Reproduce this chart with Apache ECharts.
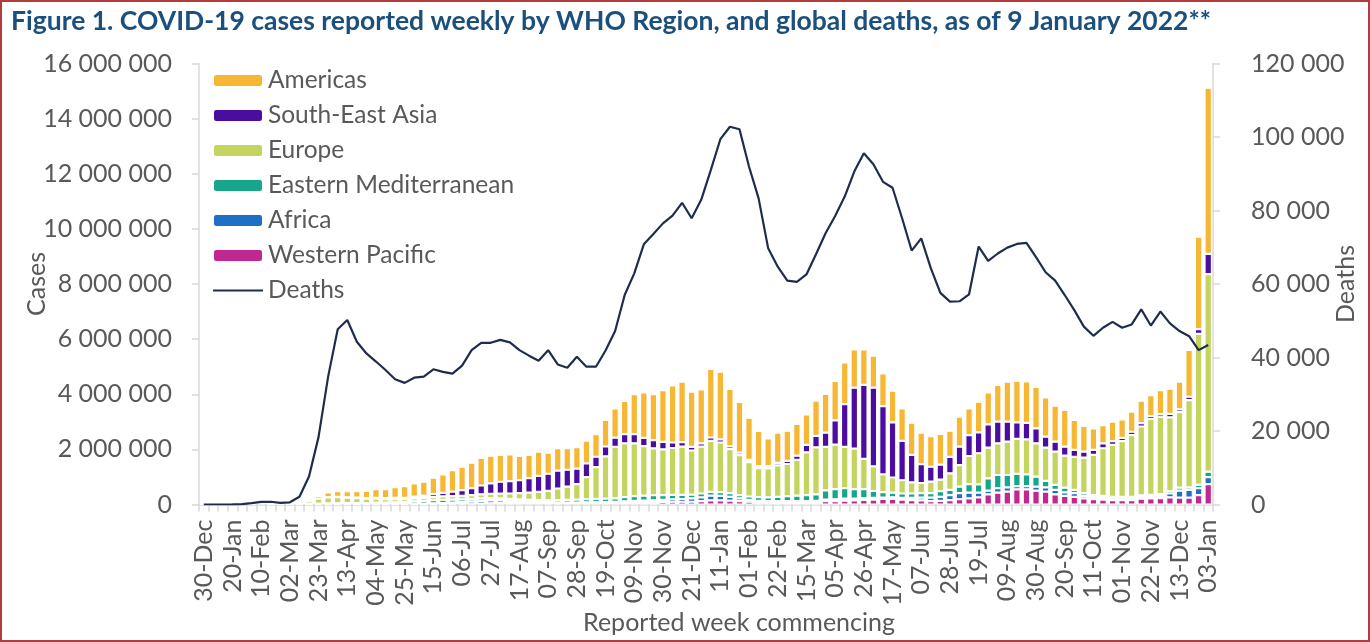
<!DOCTYPE html>
<html>
<head>
<meta charset="utf-8">
<script src="https://cdn.jsdelivr.net/npm/echarts@6/dist/echarts.min.js"></script>
<style>
html,body{margin:0;padding:0;background:#fff;}
#chart{width:1370px;height:642px;}
</style>
</head>
<body>
<div id="chart"></div>
<script>
// Week commencing labels (106 weeks)
const weeks = ["30-Dec","06-Jan","13-Jan","20-Jan","27-Jan","03-Feb","10-Feb","17-Feb","24-Feb","02-Mar","09-Mar","16-Mar","23-Mar","30-Mar","06-Apr","13-Apr","20-Apr","27-Apr","04-May","11-May","18-May","25-May","01-Jun","08-Jun","15-Jun","22-Jun","29-Jun","06-Jul","13-Jul","20-Jul","27-Jul","03-Aug","10-Aug","17-Aug","24-Aug","31-Aug","07-Sep","14-Sep","21-Sep","28-Sep","05-Oct","12-Oct","19-Oct","26-Oct","02-Nov","09-Nov","16-Nov","23-Nov","30-Nov","07-Dec","14-Dec","21-Dec","28-Dec","04-Jan","11-Jan","18-Jan","25-Jan","01-Feb","08-Feb","15-Feb","22-Feb","01-Mar","08-Mar","15-Mar","22-Mar","29-Mar","05-Apr","12-Apr","19-Apr","26-Apr","03-May","10-May","17-May","24-May","31-May","07-Jun","14-Jun","21-Jun","28-Jun","05-Jul","12-Jul","19-Jul","26-Jul","02-Aug","09-Aug","16-Aug","23-Aug","30-Aug","06-Sep","13-Sep","20-Sep","27-Sep","04-Oct","11-Oct","18-Oct","25-Oct","01-Nov","08-Nov","15-Nov","22-Nov","29-Nov","06-Dec","13-Dec","20-Dec","27-Dec","03-Jan"];

// Weekly cases by WHO region, in thousands
const westernPacificK = [0.1,0.1,0.3,2,12,22,40,10,5,5, 5,6,8,10,10,10,8,7,6,6, 6,6,6,7,9,12,15,18,25,35, 45,50,55,50,45,40,35,35,35,35, 40,45,45,50,55,60,70,80,90,100, 100,100,120,150,150,140,120,100,80,70, 70,70,70,70,80,120,120,140,150,170, 180,200,200,180,160,150,120,130,160,190, 220,260,370,430,470,550,550,500,470,370, 310,280,220,190,180,160,160,160,210,220, 230,260,250,250,340,740];
const africaK = [0,0,0,0,0,0,0,0,0,0.01, 0.1,0.5,1,3,5,6,6,8,10,10, 12,14,18,22,30,40,55,70,90,100, 105,95,80,65,55,45,40,35,35,35, 35,38,45,50,60,70,70,75,80,90, 100,120,140,170,160,140,100,70,55,50, 50,50,50,50,50,60,70,70,60,60, 60,50,60,60,80,100,130,150,180,220, 210,170,130,160,150,120,120,150,150,160, 130,130,90,70,60,50,50,50,50,50, 80,140,250,280,250,250];
const easternMedK = [0,0,0,0,0,0,0,0.1,1,6, 10,14,20,25,30,32,35,40,50,55, 60,70,90,100,115,120,110,100,90,85, 80,75,70,70,70,75,80,90,100,110, 115,120,125,125,150,170,180,180,170,160, 150,140,140,140,140,130,120,120,130,140, 160,180,200,220,240,330,370,380,350,330, 250,200,170,160,160,160,160,200,190,240, 310,300,450,480,450,440,420,360,240,180, 170,120,100,80,70,70,70,70,70,80, 70,80,110,90,120,200];
const europeK = [0,0,0,0,0,0.01,0,0.01,1,8, 40,100,180,220,225,200,185,160,150,125, 120,105,105,110,115,120,125,130,135,150, 160,175,195,225,260,300,340,420,480,560, 800,1150,1530,1870,1950,1920,1800,1700,1660,1700, 1750,1600,1700,1850,1800,1600,1450,1250,1050,1050, 1140,1170,1300,1550,1700,1580,1610,1500,1470,1100, 890,640,550,480,400,370,420,420,600,780, 1020,1130,1110,1150,1210,1270,1270,1210,1200,1210, 1160,1200,1290,1460,1730,1880,2020,2240,2500,2760, 2800,2680,2740,3170,5480,7170];
const southEastAsiaK = [0,0,0,0,0,0,0,0,0,0.01, 0.1,0.5,2,5,8,12,16,20,25,32, 42,50,65,80,105,130,165,200,250,320, 380,430,450,470,530,580,620,650,610,560, 500,380,360,330,340,330,300,300,270,200, 160,130,120,120,110,100,90,80,80,80, 90,110,150,270,420,520,880,1550,2210,2680, 2860,2480,2000,1430,1000,680,540,550,600,670, 760,760,850,790,730,600,600,540,400,360, 330,250,220,180,180,140,120,120,120,100, 100,130,100,120,170,730];
const americasK = [0,0,0,0,0,0,0,0,0.1,0.5, 3,25,100,180,210,225,235,255,320,327, 385,425,486,511,596,673,780,852,930,1000, 1000,975,970,880,840,880,765,810,780,780, 830,817,965,1065,1205,1450,1650,1665,1880,2070, 2200,2000,1960,2490,2460,2080,1840,1530,1275,1010, 1100,1100,1150,1110,1280,1400,1430,1520,1390,1290, 1160,1190,1150,1180,1170,1150,1110,1110,950,1090, 970,1110,1160,1330,1450,1510,1510,1510,1430,1310, 1330,1090,930,780,660,710,670,730,820,760, 870,910,1010,1700,3360,6030];

// Global weekly deaths, in thousands
const deathsK = [0,0,0,0.02,0.1,0.35,0.7,0.75,0.45,0.6, 2.1,7.6,18.4,34.8,47.7,50.2,44.3,41.1,38.9,36.6, 34.1,33.1,34.5,34.8,36.8,36.1,35.6,37.8,42.0,44.0, 44.0,44.8,44.1,42.0,40.5,39.1,42.0,38.1,37.2,40.2, 37.5,37.5,41.9,47.2,57.0,62.9,70.8,73.6,76.5,78.6, 82.1,77.9,82.9,91.0,99.4,102.8,102.1,91.9,83.3,69.7, 64.7,60.9,60.6,62.6,68.1,73.8,78.5,83.8,90.6,95.6, 92.6,87.8,86.2,77.9,69.1,72.4,64.3,57.6,55.2,55.3, 57.2,70.2,66.3,68.3,69.9,70.9,71.2,67.3,63.2,60.9, 57.0,52.9,48.4,45.9,48.1,49.7,48.1,49.0,53.1,48.7, 52.5,49.3,47.2,45.8,42.0,43.4];

const legendOrder = ["Americas","South-East Asia","Europe","Eastern Mediterranean","Africa","Western Pacific","Deaths"];

const FONT = "Lato";
const TXT = "#595959";
const AXIS = "#d9d9d9";
const fmt = v => String(v).replace(/\B(?=(\d{3})+(?!\d))/g, " ");
const toUnits = arr => arr.map(v => Math.round(v * 1000));

function barSeries(name, color, arr) {
  return {
    name: name, type: "bar", stack: "cases", barCategoryGap: "22%",
    itemStyle: { color: color, borderColor: "#ffffff", borderWidth: 1.1 },
    data: toUnits(arr), animation: false
  };
}

const legendData = legendOrder.map(n => n === "Deaths"
  ? { name: n, icon: "path://M0,0 H50 V2.2 H0 Z" }
  : { name: n });

const chart = echarts.init(document.getElementById("chart"));
chart.setOption({
  animation: false,
  backgroundColor: "#ffffff",
  textStyle: { fontFamily: FONT },
  title: {
    text: "Figure 1. COVID-19 cases reported weekly by WHO Region, and global deaths, as of 9 January 2022**",
    left: 6, top: 3,
    textStyle: { fontFamily: FONT, fontWeight: "bold", fontSize: 26.5, color: "#1b4f7d" }
  },
  graphic: [{
    type: "rect", silent: true, z: 100,
    shape: { x: 1, y: 1, width: 1368, height: 640 },
    style: { fill: "none", stroke: "#b23b3b", lineWidth: 2 }
  }],
  legend: {
    orient: "vertical", left: 207, top: 63,
    data: legendData,
    itemWidth: 50, itemHeight: 13, itemGap: 10,
    textStyle: { fontFamily: FONT, fontSize: 24.5, color: TXT, lineHeight: 25 }
  },
  grid: { left: 199, right: 157, top: 63.5, bottom: 137.5 },
  xAxis: {
    type: "category", data: weeks,
    name: "Reported week commencing", nameLocation: "middle", nameGap: 106, nameMoveOverlap: false,
    nameTextStyle: { fontFamily: FONT, fontSize: 25, color: TXT, padding: [0, 0, 0, 66] },
    axisLine: { lineStyle: { color: AXIS, width: 1.5 } },
    axisTick: { show: true, interval: 0, length: 7, lineStyle: { color: AXIS, width: 1.5 } },
    axisLabel: { interval: 2, rotate: 90, margin: 15, fontFamily: FONT, fontSize: 25, color: TXT }
  },
  yAxis: [{
    type: "value", min: 0, max: 16000000, interval: 2000000,
    name: "Cases", nameLocation: "middle", nameRotate: 90, nameGap: 150, nameMoveOverlap: false,
    nameTextStyle: { fontFamily: FONT, fontSize: 25, color: TXT },
    splitLine: { show: false },
    axisLine: { show: true, lineStyle: { color: AXIS, width: 1.5 } },
    axisTick: { show: true, length: 7, lineStyle: { color: AXIS, width: 1.5 } },
    axisLabel: { margin: 27, fontFamily: FONT, fontSize: 25, color: TXT, formatter: fmt }
  }, {
    type: "value", min: 0, max: 120000, interval: 20000, position: "right",
    name: "Deaths", nameLocation: "middle", nameRotate: 90, nameGap: 120, nameMoveOverlap: false,
    nameTextStyle: { fontFamily: FONT, fontSize: 25, color: TXT },
    splitLine: { show: false },
    axisLine: { show: true, lineStyle: { color: AXIS, width: 1.5 } },
    axisTick: { show: true, length: 7, lineStyle: { color: AXIS, width: 1.5 } },
    axisLabel: { margin: 38, fontFamily: FONT, fontSize: 25, color: TXT, formatter: fmt }
  }],
  series: [
    barSeries("Western Pacific", "#c0278f", westernPacificK),
    barSeries("Africa", "#1f6fc5", africaK),
    barSeries("Eastern Mediterranean", "#18a68a", easternMedK),
    barSeries("Europe", "#c5d35f", europeK),
    barSeries("South-East Asia", "#4a0d9f", southEastAsiaK),
    barSeries("Americas", "#f6b735", americasK),
    {
      name: "Deaths", type: "line", yAxisIndex: 1, symbol: "none", smooth: false,
      lineStyle: { color: "#1f2d4d", width: 2.2 }, itemStyle: { color: "#1f2d4d" },
      data: toUnits(deathsK), z: 10, animation: false
    }
  ]
});
</script>
</body>
</html>
